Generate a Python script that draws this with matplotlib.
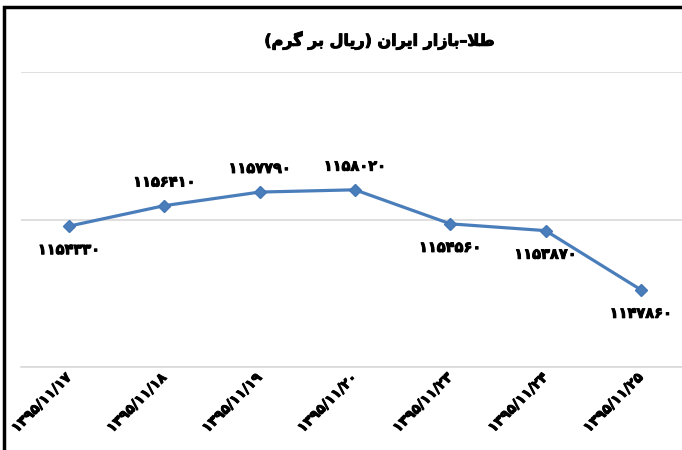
import matplotlib.pyplot as plt
import matplotlib.patheffects as pe
from matplotlib.patches import Rectangle

# data (Persian digits as in the source chart)
dates = ['۱۳۹۵/۱۱/۱۷', '۱۳۹۵/۱۱/۱۸', '۱۳۹۵/۱۱/۱۹', '۱۳۹۵/۱۱/۲۰',
         '۱۳۹۵/۱۱/۲۳', '۱۳۹۵/۱۱/۲۴', '۱۳۹۵/۱۱/۲۵']
prices = [1154330, 1156410, 1157790, 1158020, 1154560, 1153870, 1147860]
labels = ['۱۱۵۴۳۳۰', '۱۱۵۶۴۱۰', '۱۱۵۷۷۹۰', '۱۱۵۸۰۲۰',
          '۱۱۵۴۵۶۰', '۱۱۵۳۸۷۰', '۱۱۴۷۸۶۰']
label_above = [False, True, True, True, False, False, False]

# title "طلا–بازار ایران (ریال بر گرم)" written in shaped presentation forms,
# visual (left-to-right) order, since matplotlib does no Arabic shaping
title = ('(\ufee1\ufeae\ufb94 \ufeae\ufe91 \ufedd\ufe8e\ufbfe\ufead) '
         '\ufee5\ufe8d\ufeae\ufbfe\ufe8d \ufead\ufe8d\ufeaf\ufe8e\ufe91'
         '\u2013\ufefc\ufec3')

line_color = '#4a7ebb'
heavy = [pe.withStroke(linewidth=0.7, foreground='black')]

fig = plt.figure(figsize=(6.82, 4.5), dpi=100)
ax = fig.add_axes([0.0315, 0.1844, 0.978, 0.6556])

x = list(range(len(prices)))
ax.plot(x, prices, color=line_color, lw=2.3, marker='D', markersize=6.5,
        markerfacecolor=line_color, markeredgecolor='#4577b5', zorder=3)

for xi, yi, lab, up in zip(x, prices, labels, label_above):
    ax.annotate(lab, (xi, yi), xytext=(0, 17 if up else -17),
                textcoords='offset points', ha='center', va='center',
                fontsize=10.5, fontweight='bold', color='black',
                path_effects=heavy)

ax.set_xlim(-0.5, len(prices) - 0.5)
ax.set_ylim(1140000, 1170000)
ax.set_yticks([1140000, 1155000, 1170000])
ax.yaxis.grid(True, color='#d9d9d9', lw=1.2)
ax.tick_params(axis='y', left=False, labelleft=False)
ax.tick_params(axis='x', length=0, pad=6)
ax.set_xticks(x)
ax.set_xticklabels(dates, rotation=45, ha='right', va='center',
                   rotation_mode='anchor', fontsize=10, fontweight='bold')
for t in ax.get_xticklabels():
    t.set_path_effects(heavy)
for s in ['top', 'right', 'left']:
    ax.spines[s].set_visible(False)
ax.spines['bottom'].set_color('#d9d9d9')
ax.spines['bottom'].set_linewidth(1.2)

fig.text(0.557, 0.91, title, ha='center', va='center',
         fontsize=11.5, fontweight='bold', family='DejaVu Sans',
         path_effects=heavy)

# black frame around the chart area (right/bottom edges are cut off)
fig.patches.append(Rectangle((4 / 682, -0.1), 1.2, 1.1 - 7 / 450,
                             transform=fig.transFigure, fill=False,
                             edgecolor='black', lw=2.5))

plt.savefig('out.png', dpi=100)
